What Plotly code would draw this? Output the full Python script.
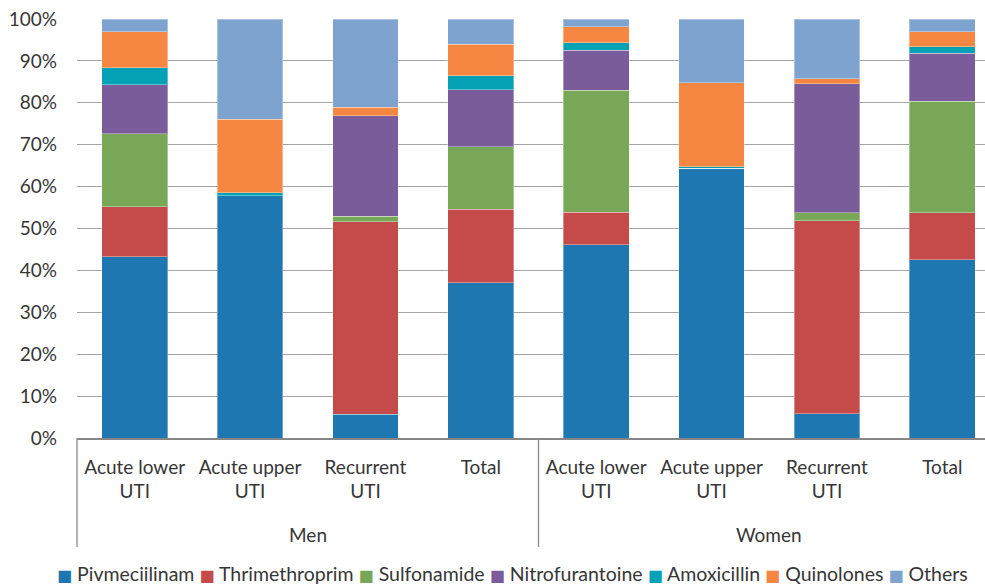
import plotly.graph_objects as go

# Categories: sex group and UTI diagnosis
groups = ["Men", "Women"]
diagnoses = ["Acute lower<br>UTI", "Acute upper<br>UTI", "Recurrent<br>UTI", "Total"]

series_names = ["Pivmeciilinam", "Thrimethroprim", "Sulfonamide", "Nitrofurantoine",
                "Amoxicillin", "Quinolones", "Others"]
series_colors = ["#1F77B1", "#C44B4A", "#78A857", "#7A5C9A", "#05A1B5", "#F58742", "#7DA3CE"]

# Share of prescriptions (%), order: Men (4 diagnoses) then Women (4 diagnoses)
pivmecillinam   = [43.3, 57.8,  5.7, 37.1, 46.1, 64.4,  5.8, 42.6]
trimethoprim    = [11.9,  0.0, 45.9, 17.5,  7.8,  0.0, 46.0, 11.2]
sulfonamide     = [17.4,  0.0,  1.3, 14.9, 29.1,  0.0,  2.0, 26.6]
nitrofurantoin  = [11.7,  0.0, 24.0, 13.6,  9.5,  0.0, 30.8, 11.4]
amoxicillin     = [ 4.1,  0.7,  0.0,  3.4,  1.8,  0.3,  0.0,  1.6]
quinolones      = [ 8.6, 17.6,  2.0,  7.5,  3.9, 20.1,  1.1,  3.6]
others          = [ 3.0, 23.9, 21.1,  6.0,  1.8, 15.2, 14.3,  3.0]

series_values = [pivmecillinam, trimethoprim, sulfonamide, nitrofurantoin,
                 amoxicillin, quinolones, others]

positions = list(range(len(groups) * len(diagnoses)))
tick_text = diagnoses * len(groups)

FONT = "Lato"
TEXT_COLOR = "#363636"

fig = go.Figure()
for name, color, vals in zip(series_names, series_colors, series_values):
    fig.add_trace(go.Bar(
        x=positions, y=vals, name=name,
        marker=dict(color=color, line=dict(color="rgba(255,255,255,0.35)", width=1)),
        width=0.57, showlegend=False,
    ))

x_max = 7.37
fig.update_layout(
    barmode="stack",
    width=985, height=585,
    margin=dict(l=77, r=0, t=19, b=147),
    plot_bgcolor="white", paper_bgcolor="white",
    font=dict(family=FONT, size=19, color=TEXT_COLOR),
    xaxis=dict(
        range=[-0.5, x_max], tickmode="array", tickvals=positions, ticktext=tick_text,
        showgrid=False, zeroline=False, showline=True, linecolor="#868686", linewidth=1.5,
        ticks="", ticklabelstandoff=11, tickfont=dict(size=19, color=TEXT_COLOR),
    ),
    yaxis=dict(
        range=[0, 100], dtick=10, ticksuffix="%", showgrid=True,
        gridcolor="#A3A3A3", gridwidth=1.3, zeroline=False, showline=False,
        ticks="", ticklabelstandoff=19, tickfont=dict(size=19, color=TEXT_COLOR),
    ),
)

def px_to_paper_y(p):
    return (438 - p) / 419

# Group dividers below the axis
for xr, xv in [("paper", 0), ("x", 3.5)]:
    fig.add_shape(type="line", xref=xr, yref="paper", x0=xv, x1=xv,
                  y0=0, y1=px_to_paper_y(547), line=dict(color="#8C8C8C", width=1.3))

# Group labels
for i, g in enumerate(groups):
    center = i * len(diagnoses) + (len(diagnoses) - 1) / 2
    fig.add_annotation(x=center, xref="x", y=px_to_paper_y(534), yref="paper",
                       text=g, showarrow=False, yanchor="middle",
                       font=dict(size=19, color=TEXT_COLOR, family=FONT))

# Legend row built from the series names and colours
legend_text = " ".join(
    f"<span style='color:{c};font-size:16px;font-family:DejaVu Sans'>■</span> {n}"
    for n, c in zip(series_names, series_colors)
)
fig.add_annotation(x=0.48, xref="paper", y=px_to_paper_y(573), yref="paper",
                   text=legend_text, showarrow=False, yanchor="middle",
                   font=dict(size=19.5, color=TEXT_COLOR, family=FONT))

fig.write_html("out.html")
